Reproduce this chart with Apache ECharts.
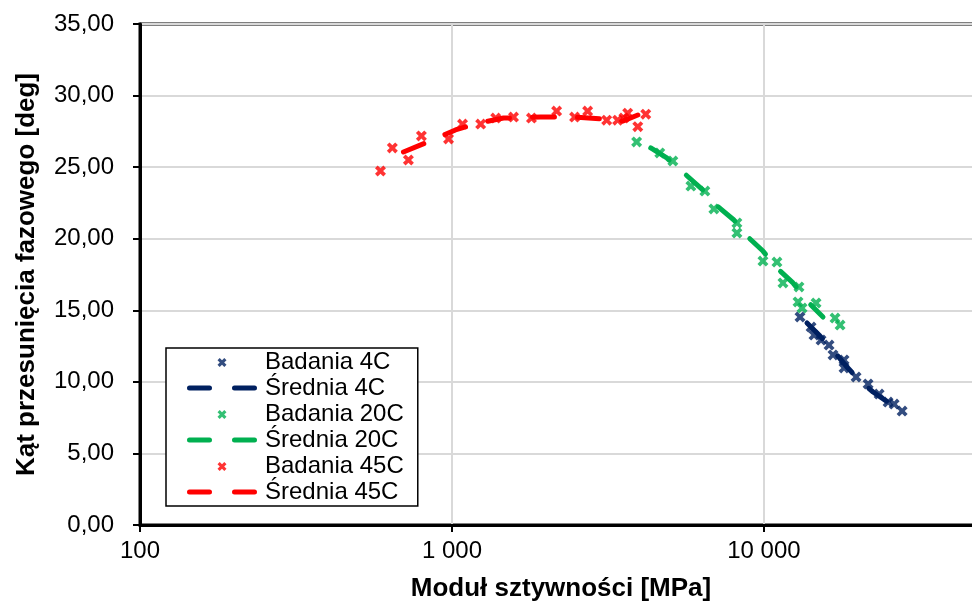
<!DOCTYPE html>
<html>
<head>
<meta charset="utf-8">
<script src="https://cdn.jsdelivr.net/npm/echarts/dist/echarts.min.js"></script>
<style>
  html, body { margin: 0; padding: 0; background: #ffffff; }
  #chart { width: 972px; height: 605px; }
</style>
</head>
<body>
<div id="chart"></div>
<script>
// Stiffness modulus [MPa] vs phase angle [deg], three test temperatures
const badania4C = [
  [13050, 14.53], [14160, 13.83], [14470, 13.27], [15240, 12.92], [16170, 12.57],
  [16650, 11.88], [18060, 11.53], [18060, 10.97], [19740, 10.34], [21570, 9.85],
  [23400, 9.15], [25000, 8.59], [26140, 8.45], [27730, 7.96]
];
const srednia4C = [
  [13740, 14.11], [15020, 13.27], [16410, 12.37], [18330, 11.11],
  [20180, 10.13], [22380, 9.29], [24640, 8.66], [27130, 8.17]
];
const badania20C = [
  [3908, 26.76], [4636, 25.99], [5105, 25.43], [5833, 23.68], [6466, 23.33],
  [6910, 22.08], [8191, 21.10], [8191, 20.40], [9927, 18.44], [11008, 18.37],
  [11508, 16.91], [12952, 16.63], [12860, 15.58], [13250, 15.16], [14690, 15.51],
  [16900, 14.46], [17540, 13.97]
];
const srednia20C = [
  [4337, 26.34], [4882, 25.64], [5537, 24.59], [6372, 23.40], [7015, 22.36],
  [8012, 21.31], [8884, 20.12], [9927, 19.14], [11092, 17.88], [12392, 16.91],
  [13946, 15.51], [15465, 14.53]
];
const badania45C = [
  [590, 24.73], [644, 26.34], [725, 25.50], [798, 27.18], [975, 26.97],
  [1081, 28.01], [1236, 28.01], [1381, 28.43], [1575, 28.50], [1798, 28.43],
  [2165, 28.92], [2472, 28.50], [2722, 28.92], [3133, 28.28], [3397, 28.28],
  [3556, 28.43], [3658, 28.77], [3941, 27.83], [4180, 28.70]
];
const srednia45C = [
  [699, 26.06], [822, 26.69], [1026, 27.60], [1216, 28.08], [1463, 28.43],
  [1922, 28.50], [2490, 28.50], [3110, 28.35], [3525, 28.22], [3943, 28.64]
];

const seriesNames = ['Badania 4C', 'Średnia 4C', 'Badania 20C', 'Średnia 20C', 'Badania 45C', 'Średnia 45C'];
const xAxisTitle = 'Moduł sztywności [MPa]';
const yAxisTitle = 'Kąt przesunięcia fazowego [deg]';

const NAVY = '#002060';
const GREEN = '#00B050';
const RED = '#FF0000';
const FONT = '"Liberation Sans", Arial, sans-serif';

// "×" marker drawn as a filled outline
const CROSS = 'path://M0,2.4L2.4,0L5,2.6L7.6,0L10,2.4L7.4,5L10,7.6L7.6,10L5,7.4L2.4,10L0,7.6L2.6,5Z';
// legend icons (73 x 14 box): small cross in the middle, and two rounded dashes
const LEGEND_CROSS = 'path://M0,0M73,14M30.5,5.2L32.7,3L35,5.3L37.3,3L39.5,5.2L37.2,7.5L39.5,9.8L37.3,12L35,9.7L32.7,12L30.5,9.8L32.8,7.5Z';
const LEGEND_DASH = 'path://M0,0M73,14M2.5,4.5h20a2.5,2.5 0 0 1 0,5h-20a2.5,2.5 0 0 1 0,-5z' +
                    'M47.5,4.5h20a2.5,2.5 0 0 1 0,5h-20a2.5,2.5 0 0 1 0,-5z';

function scatterSeries(name, data, color) {
  return {
    type: 'scatter', name: name, data: data,
    symbol: CROSS, symbolSize: 11,
    itemStyle: { color: color },
    animation: false, silent: true
  };
}
function meanSeries(name, data, color) {
  return {
    type: 'line', name: name, data: data,
    symbol: 'none', showSymbol: false,
    lineStyle: { color: color, width: 5, type: [22, 23], cap: 'round' },
    itemStyle: { color: color },
    animation: false, silent: true
  };
}

const colors = [NAVY, NAVY, GREEN, GREEN, RED, RED];
const legendData = seriesNames.map((n, i) => ({
  name: n,
  icon: i % 2 === 0 ? LEGEND_CROSS : LEGEND_DASH,
  itemStyle: { color: colors[i], borderWidth: 0 }
}));

const thousands = v => String(Math.round(v)).replace(/\B(?=(\d{3})+(?!\d))/g, ' ');

const chart = echarts.init(document.getElementById('chart'), null, { renderer: 'canvas' });
chart.setOption({
  animation: false,
  backgroundColor: '#ffffff',
  textStyle: { fontFamily: FONT },
  grid: {
    left: 140, right: -10, top: 24, bottom: 80,
    containLabel: false, outerBoundsMode: 'none',
    show: true, borderColor: '#000000', borderWidth: 3
  },
  legend: {
    orient: 'vertical', left: 166, top: 348,
    padding: [2, 14, 2, 21], itemGap: 2,
    itemWidth: 73, itemHeight: 14,
    borderColor: '#000000', borderWidth: 1.5, backgroundColor: '#ffffff',
    textStyle: { fontSize: 24, color: '#000000', fontFamily: FONT, lineHeight: 24 },
    itemStyle: { borderWidth: 0 },
    selectedMode: false,
    data: legendData
  },
  xAxis: {
    type: 'log', logBase: 10, min: 100, max: 50000,
    name: xAxisTitle, nameLocation: 'middle', nameGap: 51,
    nameTextStyle: { fontSize: 26, fontWeight: 'bold', color: '#000000', fontFamily: FONT },
    axisLine: { show: true, lineStyle: { color: '#000000', width: 3 } },
    axisTick: { show: true, length: 7, lineStyle: { color: '#000000', width: 2 } },
    axisLabel: {
      fontSize: 24, color: '#000000', fontFamily: FONT, margin: 14,
      showMaxLabel: false, formatter: thousands
    },
    splitLine: { show: true, lineStyle: { color: '#d9d9d9', width: 2 } },
    minorTick: { show: false }, minorSplitLine: { show: false }
  },
  yAxis: {
    type: 'value', min: 0, max: 35, interval: 5,
    name: yAxisTitle, nameLocation: 'middle', nameGap: 100, nameRotate: 90,
    nameTextStyle: { fontSize: 26, fontWeight: 'bold', color: '#000000', fontFamily: FONT },
    axisLine: { show: true, lineStyle: { color: '#000000', width: 3 } },
    axisTick: { show: true, length: 7, lineStyle: { color: '#000000', width: 2 } },
    axisLabel: {
      fontSize: 24, color: '#000000', fontFamily: FONT, margin: 26,
      formatter: v => v.toFixed(2).replace('.', ',')
    },
    splitLine: { show: true, lineStyle: { color: '#d9d9d9', width: 2 } }
  },
  series: [
    scatterSeries(seriesNames[0], badania4C, NAVY),
    meanSeries(seriesNames[1], srednia4C, NAVY),
    scatterSeries(seriesNames[2], badania20C, GREEN),
    meanSeries(seriesNames[3], srednia20C, GREEN),
    scatterSeries(seriesNames[4], badania45C, RED),
    meanSeries(seriesNames[5], srednia45C, RED)
  ]
});
</script>
</body>
</html>
